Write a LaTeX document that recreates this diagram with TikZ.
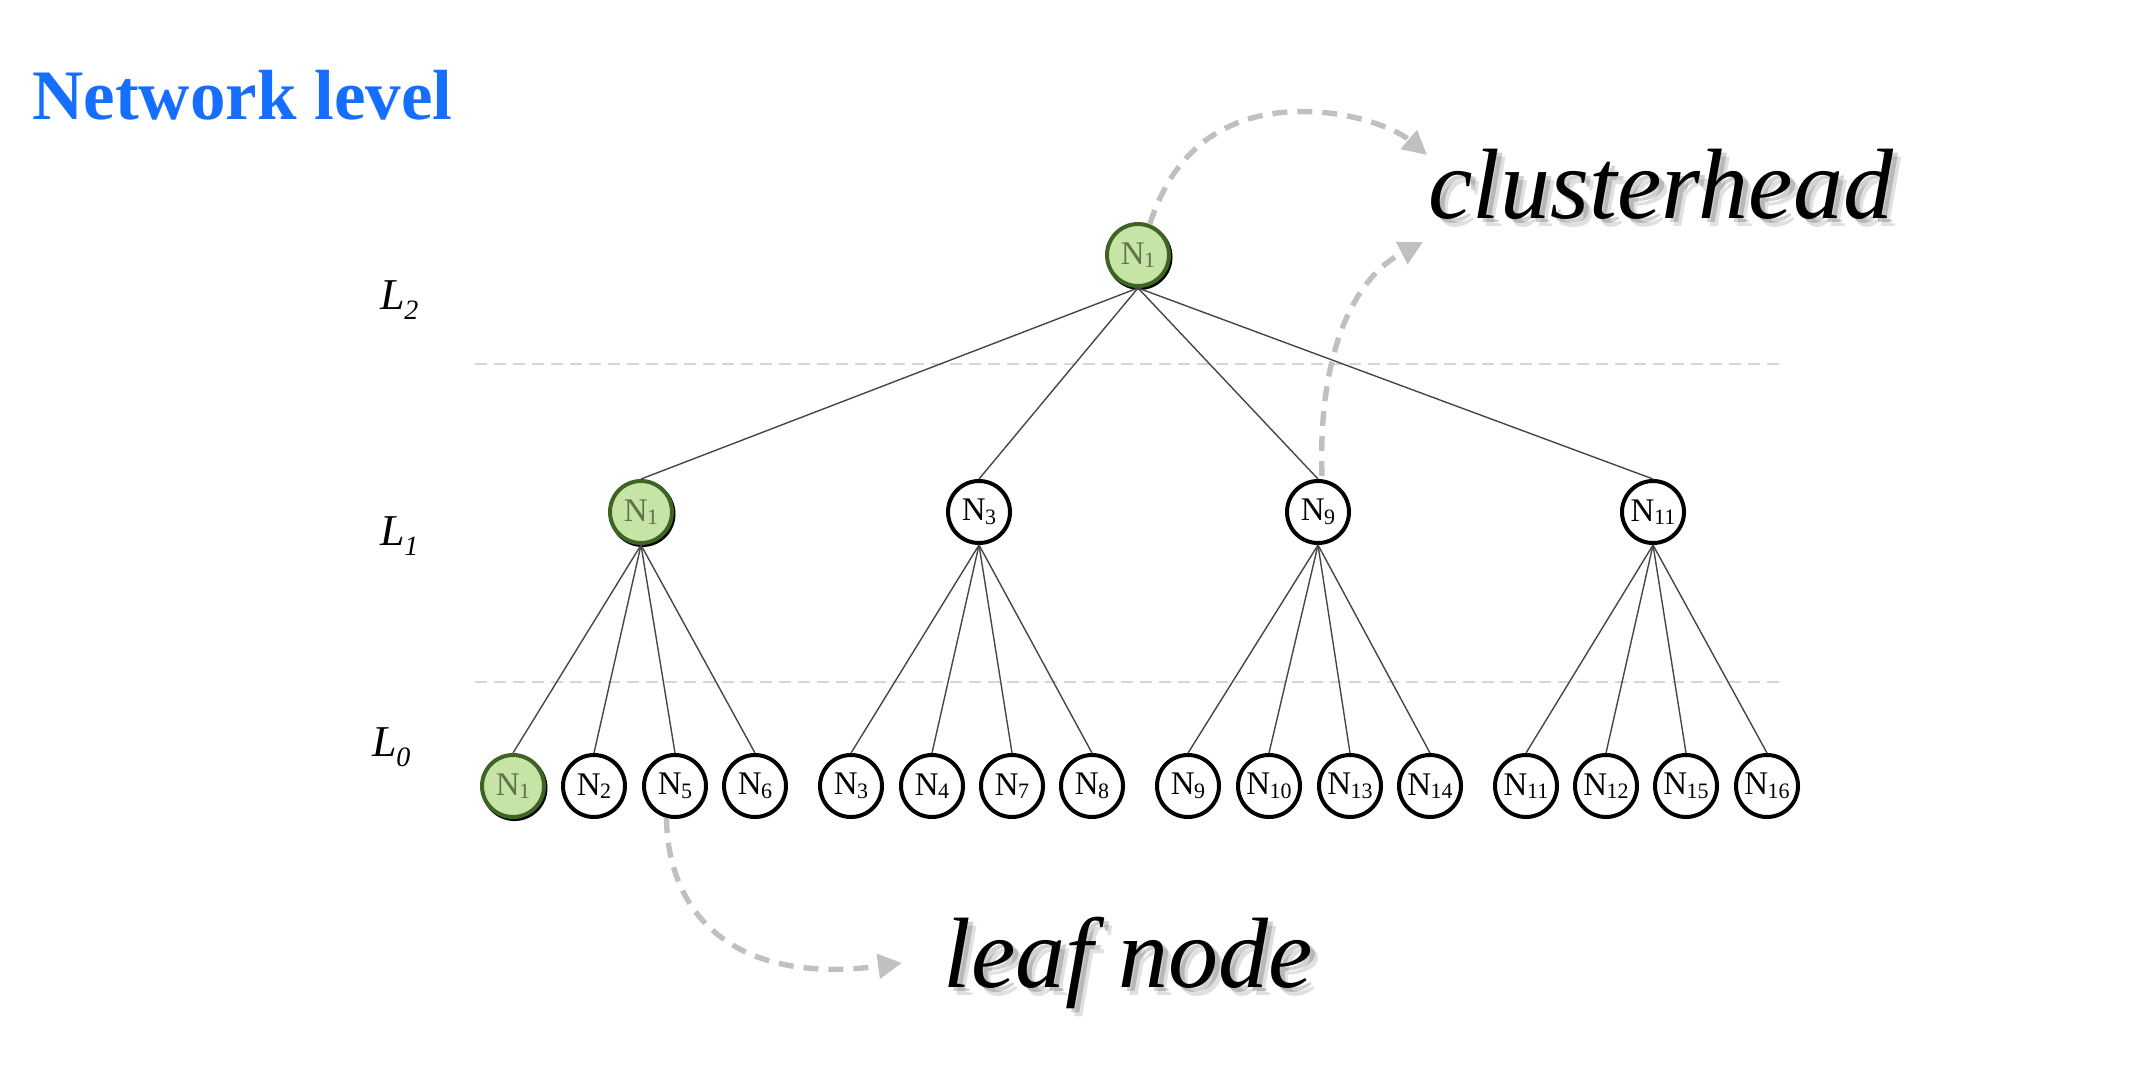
\documentclass[tikz,border=0pt]{standalone}
\usepackage{fontspec}
\setmainfont{Liberation Serif}
\usetikzlibrary{arrows.meta,calc}
\definecolor{netblue}{RGB}{22,110,255}
\definecolor{gfill}{RGB}{197,228,165}
\definecolor{gedge}{RGB}{62,100,35}
\definecolor{gtext}{RGB}{95,115,75}
\definecolor{arrowgray}{RGB}{192,192,192}
\definecolor{levelgray}{RGB}{214,214,214}
\definecolor{edgegray}{RGB}{70,70,70}
\newcommand{\nsub}[1]{N\kern-0.2pt\raisebox{-1.8pt}{\fontsize{11}{11}\selectfont #1}}
\newcommand{\lsub}[1]{\textit{L}\kern-0.3pt\raisebox{-5pt}{\fontsize{14}{14}\selectfont\itshape #1}}
\begin{document}
\begin{tikzpicture}[x=0.5pt,y=-0.5pt,
  tn/.style={circle,draw=black,line width=2pt,minimum size=31pt,inner sep=0pt,fill=white,font=\fontsize{16.5}{18}\selectfont},
  gn/.style={tn,draw=gedge,fill=gfill,text=gtext},
  tedge/.style={draw=edgegray,line width=0.7pt},
  lvl/.style={draw=levelgray,line width=1pt,dash pattern=on 6pt off 3.5pt},
  callout/.style={draw=arrowgray,line width=2.7pt,dash pattern=on 7.5pt off 5pt,-{Triangle[length=12pt,width=12pt,fill=arrowgray]}},
  biglabel/.style={font=\fontsize{50}{56}\selectfont\itshape,anchor=base west,inner sep=0pt},
  lvllabel/.style={font=\fontsize{22}{24}\selectfont,anchor=base west,inner sep=0pt},
]
\useasboundingbox (0,0) rectangle (2130,1066);

% title
\node[font=\fontsize{35.5}{40}\selectfont\bfseries,text=netblue,anchor=base west,inner sep=0pt] (title) at (32,119) {Network level};

% level labels
\node[lvllabel] (L2) at (380,309) {\lsub{2}};
\node[lvllabel] (L1) at (380,545) {\lsub{1}};
\node[lvllabel] (L0) at (372,756) {\lsub{0}};

% level separators
\coordinate (h1a) at (475,364); \coordinate (h1b) at (1786,364);
\coordinate (h2a) at (475,682); \coordinate (h2b) at (1786,682);
\draw[lvl] (h1a) -- (h1b);
\draw[lvl] (h2a) -- (h2b);

% shadows of the green nodes
\fill[black] (1139.5,257) circle (33);
\fill[black] (642.5,514) circle (33);
\fill[black] (514.5,788) circle (33);

% nodes
\node[gn] (r) at (1138,255) {\nsub{1}};
\node[gn] (a1) at (641,512) {\nsub{1}};
\node[tn] (a3) at (979,512) {\nsub{3}};
\node[tn] (a9) at (1318,512) {\nsub{9}};
\node[tn] (a11) at (1653,512) {\nsub{11}};

\node[gn] (l1) at (513,786) {\nsub{1}};
\node[tn] (l2) at (594,786) {\nsub{2}};
\node[tn] (l5) at (675,786) {\nsub{5}};
\node[tn] (l6) at (755,786) {\nsub{6}};
\node[tn] (l3) at (851,786) {\nsub{3}};
\node[tn] (l4) at (932,786) {\nsub{4}};
\node[tn] (l7) at (1012,786) {\nsub{7}};
\node[tn] (l8) at (1092,786) {\nsub{8}};
\node[tn] (l9) at (1188,786) {\nsub{9}};
\node[tn] (l10) at (1269,786) {\nsub{10}};
\node[tn] (l13) at (1350,786) {\nsub{13}};
\node[tn] (l14) at (1430,786) {\nsub{14}};
\node[tn] (l11) at (1526,786) {\nsub{11}};
\node[tn] (l12) at (1606,786) {\nsub{12}};
\node[tn] (l15) at (1686,786) {\nsub{15}};
\node[tn] (l16) at (1767,786) {\nsub{16}};

% tree edges
\foreach \c in {a1,a3,a9,a11} \draw[tedge] (r.south) -- (\c.north);
\foreach \c in {l1,l2,l5,l6} \draw[tedge] (a1.south) -- (\c.north);
\foreach \c in {l3,l4,l7,l8} \draw[tedge] (a3.south) -- (\c.north);
\foreach \c in {l9,l10,l13,l14} \draw[tedge] (a9.south) -- (\c.north);
\foreach \c in {l11,l12,l15,l16} \draw[tedge] (a11.south) -- (\c.north);

% big labels with soft shadows
\node[biglabel,text=black,opacity=0.12] (chs1) at (1436,226) {clusterhead};
\node[biglabel,text=black,opacity=0.18] (chs2) at (1433,222) {clusterhead};
\node[biglabel] (ch) at (1428,218) {clusterhead};
\node[biglabel,text=black,opacity=0.12] (lfs1) at (951,995) {leaf node};
\node[biglabel,text=black,opacity=0.18] (lfs2) at (948,991) {leaf node};
\node[biglabel] (lf) at (943,987) {leaf node};

% callout arrows
\coordinate (tipA) at (1427,155);
\coordinate (tipB) at (1423,242);
\coordinate (tipC) at (902,963);
\draw[callout] (r.69) .. controls (1180,130) and (1250,108) .. (1317,112)
  .. controls (1365,115) and (1400,132) .. (tipA);
\draw[callout] ($(a9.north)+(4,-3)$) .. controls (1318,360) and (1350,280) .. (tipB);
\draw[callout] (l5.255) .. controls (668,920) and (740,985) .. (tipC);
\end{tikzpicture}
\end{document}
